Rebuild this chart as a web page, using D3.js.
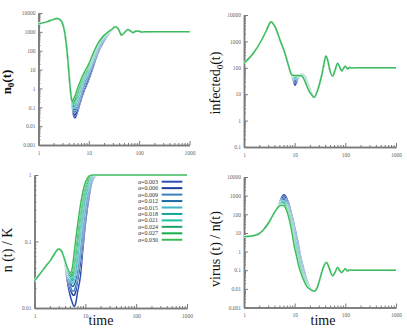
<!DOCTYPE html>
<html><head><meta charset="utf-8">
<script src="https://cdn.jsdelivr.net/npm/d3@7"></script>
<style>body{margin:0;background:#fff}svg{display:block}</style>
</head><body>
<svg id="c" width="407" height="334"></svg>
<script>
const alphas = ["0.003","0.006","0.009","0.012","0.015","0.018","0.021","0.024","0.027","0.030"];
const colors = ["#2d4fb5","#1d3d9c","#3b7fbf","#1b6aa3","#47b3c9","#12a89e","#1cc0a0","#1ea36a","#16b04e","#3cbb5e"];

// tick labels
const ticks1 = ["0.001","0.01","0.1","1","10","100","1000","10000"];
const ticks2 = ["0.1","1","10","100","1000","10000"];
const ticks3 = ["0.01","0.1","1"];
const ticksX = ["1","10","100","1000"];

// ---- Panel 1: n0(t)
const p1HeadT = [1, 1.5, 2, 2.3, 2.6, 2.96, 3.29, 3.55, 3.83, 4.13];
const p1HeadV = [2600, 3500, 4600, 5100, 4700, 3100, 1020, 245, 32, 2.8];
const p1MidT = [4.46, 4.7, 5.0, 5.3, 5.7, 6.2, 7, 8, 10, 12, 15, 20, 25, 30];
const p1Mid = [
 [0.36, 0.10, 0.035, 0.027, 0.04, 0.08, 0.25, 0.7, 3, 12, 70, 330, 800, 1350],
 [0.36, 0.11, 0.045, 0.038, 0.055, 0.11, 0.35, 0.95, 4, 16, 85, 370, 840, 1380],
 [0.36, 0.12, 0.06, 0.055, 0.08, 0.16, 0.5, 1.3, 5.5, 21, 100, 410, 870, 1400],
 [0.36, 0.13, 0.075, 0.075, 0.11, 0.22, 0.7, 1.8, 7, 27, 120, 450, 900, 1420],
 [0.36, 0.14, 0.09, 0.095, 0.15, 0.3, 0.9, 2.4, 8.5, 33, 140, 490, 930, 1440],
 [0.36, 0.15, 0.11, 0.12, 0.2, 0.4, 1.2, 3, 10.5, 40, 160, 520, 960, 1450],
 [0.36, 0.16, 0.13, 0.16, 0.27, 0.55, 1.6, 3.8, 12.5, 46, 180, 560, 990, 1470],
 [0.36, 0.17, 0.15, 0.2, 0.35, 0.75, 2, 4.8, 15, 53, 200, 590, 1010, 1480],
 [0.36, 0.18, 0.18, 0.27, 0.5, 1, 2.5, 5.6, 17.5, 60, 215, 620, 1030, 1490],
 [0.36, 0.2, 0.28, 0.4, 0.7, 1.3, 3, 6.5, 20, 65, 230, 650, 1050, 1500]
];
const p1TailT = [33, 38, 45, 52, 60, 68, 75, 85, 95, 110, 130, 200, 1000];
const p1TailV = [1850, 1500, 680, 950, 1350, 1100, 900, 1080, 1120, 970, 1010, 1000, 1000];

// ---- Panel 2: infected0(t)
const p2HeadT = [1, 1.53, 2.23, 2.8, 3.41, 4.09, 5.13, 6.43, 7.5, 8.74];
const p2HeadV = [150, 355, 1130, 2700, 5600, 3600, 1130, 355, 128, 54];
const p2MidT = [9.4, 10.1, 10.9, 11.8, 13.7, 16, 18.6, 21.6];
const p2Mid = [
 [35, 22, 28, 42, 58, 46, 22, 11],
 [38, 26, 31, 43, 57, 44, 21, 10.8],
 [41, 30, 34, 44, 56, 42, 20, 10.6],
 [43, 34, 37, 45, 55, 40, 19, 10.4],
 [45, 37, 40, 46, 54, 38, 18.5, 10.2],
 [47, 40, 43, 47, 53, 36, 18, 10],
 [48, 43, 45, 48, 52, 35, 17, 9.9],
 [50, 46, 47, 49, 51, 33, 16, 9.7],
 [51, 49, 49, 50, 50.5, 31, 15.5, 9.6],
 [52, 51, 51, 51, 50, 30, 15, 9.5]
];
const p2TailT = [24.4, 28, 31, 34, 37, 41.4, 45, 50, 56, 63, 70.5, 77, 84.6, 92, 100, 110, 120, 135, 200, 1000];
const p2TailV = [7.6, 13, 25, 50, 110, 280, 190, 75, 49, 85, 148, 110, 78, 95, 115, 92, 103, 99, 100, 100];

// ---- Panel 3: n(t)/K
const p3HeadT = [1, 1.3, 1.77, 2.1, 2.5, 2.95, 3.4, 3.76];
const p3HeadV = [0.0255, 0.033, 0.045, 0.053, 0.066, 0.077, 0.072, 0.059];
const p3MidT = [4.1, 4.4, 4.8, 5.2, 5.6, 6.0, 6.5, 7, 8, 9, 10, 11, 12, 13, 14, 15.5, 17, 19];
const p3Mid = [
 [0.040, 0.026, 0.018, 0.014, 0.0118, 0.0105, 0.012, 0.017, 0.030, 0.080, 0.18, 0.32, 0.50, 0.70, 0.85, 0.96, 0.995, 1],
 [0.042, 0.030, 0.022, 0.018, 0.016, 0.0155, 0.018, 0.025, 0.048, 0.11, 0.23, 0.38, 0.56, 0.75, 0.88, 0.97, 1, 1],
 [0.043, 0.032, 0.025, 0.020, 0.018, 0.018, 0.022, 0.031, 0.065, 0.14, 0.28, 0.44, 0.62, 0.79, 0.91, 0.98, 1, 1],
 [0.044, 0.034, 0.027, 0.023, 0.021, 0.022, 0.027, 0.038, 0.085, 0.18, 0.33, 0.50, 0.68, 0.83, 0.93, 0.99, 1, 1],
 [0.045, 0.035, 0.029, 0.025, 0.0235, 0.026, 0.033, 0.047, 0.11, 0.22, 0.39, 0.56, 0.74, 0.87, 0.95, 0.99, 1, 1],
 [0.046, 0.037, 0.030, 0.027, 0.026, 0.030, 0.040, 0.058, 0.14, 0.28, 0.46, 0.63, 0.79, 0.90, 0.96, 1, 1, 1],
 [0.046, 0.038, 0.031, 0.028, 0.028, 0.034, 0.050, 0.075, 0.18, 0.35, 0.54, 0.70, 0.84, 0.93, 0.97, 1, 1, 1],
 [0.047, 0.039, 0.032, 0.030, 0.031, 0.040, 0.064, 0.10, 0.23, 0.42, 0.62, 0.77, 0.89, 0.96, 0.98, 1, 1, 1],
 [0.048, 0.040, 0.034, 0.032, 0.036, 0.050, 0.085, 0.13, 0.29, 0.50, 0.70, 0.84, 0.93, 0.98, 1, 1, 1, 1],
 [0.048, 0.041, 0.035, 0.034, 0.042, 0.065, 0.11, 0.17, 0.35, 0.57, 0.77, 0.90, 0.97, 0.99, 1, 1, 1, 1]
];
const p3TailT = [25, 100, 1000];
const p3TailV = [1, 1, 1];

// ---- Panel 4: virus(t)/n(t)
const p4HeadT = [1, 1.5, 1.9, 2.4, 3, 3.8, 4.4];
const p4HeadV = [6.3, 7, 8.5, 14.5, 32, 100, 190];
const p4MidT = [4.8, 5.2, 5.6, 6.2, 7, 8, 9, 10, 11, 12, 13, 14, 15, 17, 20];
const p4Mid = [
 [300, 550, 850, 1100, 700, 250, 70, 20, 6, 2, 0.6, 0.25, 0.12, 0.035, 0.012],
 [290, 500, 720, 850, 560, 200, 55, 15, 4.5, 1.5, 0.48, 0.2, 0.1, 0.031, 0.0115],
 [280, 460, 630, 700, 460, 165, 45, 12, 3.6, 1.2, 0.4, 0.17, 0.088, 0.028, 0.011],
 [275, 430, 560, 600, 390, 140, 36, 9.5, 2.8, 0.95, 0.33, 0.14, 0.075, 0.025, 0.0107],
 [270, 400, 500, 520, 330, 115, 28, 7, 2.1, 0.72, 0.26, 0.115, 0.063, 0.023, 0.0104],
 [265, 375, 450, 460, 280, 95, 22, 5, 1.6, 0.52, 0.2, 0.095, 0.054, 0.021, 0.0101],
 [260, 350, 410, 410, 240, 78, 17, 3.6, 1.2, 0.38, 0.15, 0.078, 0.046, 0.019, 0.0099],
 [255, 330, 370, 360, 200, 62, 13, 2.6, 0.85, 0.28, 0.12, 0.065, 0.04, 0.0175, 0.0097],
 [252, 310, 340, 320, 175, 50, 10, 2, 0.65, 0.21, 0.1, 0.056, 0.036, 0.016, 0.0096],
 [250, 290, 310, 280, 150, 40, 8, 1.5, 0.5, 0.17, 0.085, 0.048, 0.03, 0.015, 0.0095]
];
const p4TailT = [24.4, 28, 32, 37, 42.7, 48, 56, 63, 70.5, 77, 85, 92, 100, 110, 120, 140, 200, 1000];
const p4TailV = [0.0075, 0.012, 0.04, 0.15, 0.26, 0.13, 0.05, 0.08, 0.14, 0.1, 0.075, 0.095, 0.12, 0.09, 0.105, 0.099, 0.1, 0.1];

const panels = [
 {x0:38.5, x1:189.5, y0:145, y1:13, ydom:[0.001,10000], yt:ticks1,
  head:[p1HeadT,p1HeadV], midT:p1MidT, mid:p1Mid, tail:[p1TailT,p1TailV],
  label:"n", sub:"0", after:"(t)", lx:11, ly:82, fs:13, bold:true},
 {x0:244, x1:396, y0:147, y1:15, ydom:[0.1,10000], yt:ticks2,
  head:[p2HeadT,p2HeadV], midT:p2MidT, mid:p2Mid, tail:[p2TailT,p2TailV],
  label:"infected", sub:"0", after:"(t)", lx:220, ly:83, fs:14, bold:false},
 {x0:34.5, x1:187, y0:308, y1:175, ydom:[0.01,1], yt:ticks3,
  head:[p3HeadT,p3HeadV], midT:p3MidT, mid:p3Mid, tail:[p3TailT,p3TailV],
  label:"n (t) / K", sub:"", after:"", lx:12, ly:250, fs:14, bold:false, tx:101, legend:true},
 {x0:244, x1:396, y0:307.5, y1:177, ydom:[0.001,10000], yt:ticks1,
  head:[p4HeadT,p4HeadV], midT:p4MidT, mid:p4Mid, tail:[p4TailT,p4TailV],
  label:"virus (t) / n(t)", sub:"", after:"", lx:220, ly:249, fs:14, bold:false, tx:323}
];

const svg = d3.select("#c");
const FONT = "Liberation Serif, Times New Roman, serif";
const AX = "#7a7a7a";

function minors(dom){
  const out=[];
  const a=Math.round(Math.log10(dom[0])), b=Math.round(Math.log10(dom[1]));
  for(let e=a;e<b;e++) for(let k=2;k<=9;k++) out.push(k*Math.pow(10,e));
  return out;
}

panels.forEach(p=>{
  const x = d3.scaleLog().domain([1,1000]).range([p.x0,p.x1]);
  const y = d3.scaleLog().domain(p.ydom).range([p.y0,p.y1]);
  const g = svg.append("g");

  // axes
  const yAx = d3.axisLeft(y).tickValues(p.yt.map(Number)).tickFormat((d,i)=>p.yt[i])
    .tickSizeInner(-4).tickSizeOuter(0).tickPadding(3);
  const yMin = d3.axisLeft(y).tickValues(minors(p.ydom)).tickFormat("").tickSizeInner(-2).tickSizeOuter(0);
  const xAx = d3.axisBottom(x).tickValues(ticksX.map(Number)).tickFormat((d,i)=>ticksX[i])
    .tickSizeInner(-4).tickSizeOuter(0).tickPadding(6);
  const xMin = d3.axisBottom(x).tickValues(minors([1,1000])).tickFormat("").tickSizeInner(-2).tickSizeOuter(0);

  [[yMin,"y"],[yAx,"y"],[xMin,"x"],[xAx,"x"]].forEach(([ax,k])=>{
    const gg = g.append("g").attr("transform", k==="y" ? `translate(${p.x0},0)` : `translate(0,${p.y0})`).call(ax);
    gg.select(".domain").attr("stroke",AX).attr("stroke-width",1.5);
    gg.selectAll(".tick line").attr("stroke",AX).attr("stroke-width",1);
    gg.selectAll(".tick text").attr("fill","#666").attr("font-family",FONT).attr("font-size","5.5px");
  });

  // curves
  const line = d3.line().x(d=>x(d[0])).y(d=>y(d[1])).curve(d3.curveMonotoneX);
  p.mid.forEach((m,i)=>{
    const ts = p.head[0].concat(p.midT, p.tail[0]);
    const vs = p.head[1].concat(m, p.tail[1]);
    const pts = ts.map((t,j)=>[t,vs[j]]);
    g.append("path").attr("d",line(pts)).attr("fill","none")
      .attr("stroke","#fff").attr("stroke-width",2.1).attr("stroke-linejoin","round");
    g.append("path").attr("d",line(pts)).attr("fill","none")
      .attr("stroke",colors[i]).attr("stroke-width",1.5).attr("stroke-linejoin","round");
  });

  // y label
  const t = g.append("text").attr("transform",`translate(${p.lx},${p.ly}) rotate(-90)`)
    .attr("text-anchor","middle").attr("font-family",FONT).attr("font-size",p.fs+"px")
    .attr("font-weight",p.bold?"bold":"normal").attr("fill","#111");
  t.append("tspan").text(p.label);
  if(p.sub){ t.append("tspan").attr("font-size","9px").attr("dy","3").text(p.sub);
             t.append("tspan").attr("dy","-3").text(p.after); }

  if(p.tx){
    g.append("text").attr("x",p.tx).attr("y",325)
      .attr("text-anchor","middle").attr("font-family",FONT).attr("font-size","14px")
      .attr("fill","#111").text("time");
  }

  if(p.legend){
    const lg = g.append("g");
    alphas.forEach((a,i)=>{
      const yy = 181.7 + i*6.45;
      lg.append("text").attr("x",158).attr("y",yy+2).attr("text-anchor","end")
        .attr("font-family",FONT).attr("font-size","6px").attr("fill","#333").text("α="+a);
      lg.append("line").attr("x1",161.7).attr("x2",182.3).attr("y1",yy).attr("y2",yy)
        .attr("stroke",colors[i]).attr("stroke-width",2);
    });
  }
});
</script>
</body></html>
